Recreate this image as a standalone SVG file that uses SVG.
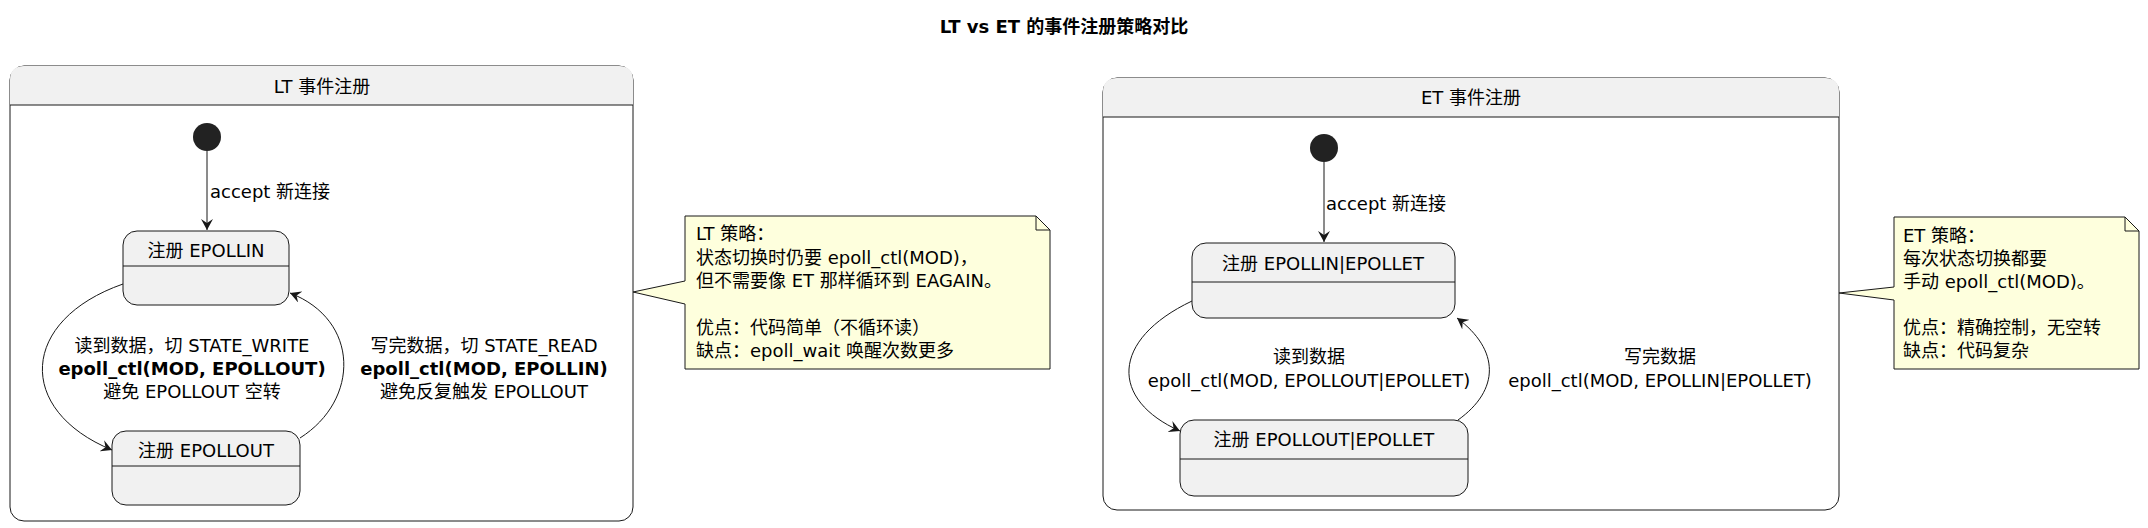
<svg xmlns="http://www.w3.org/2000/svg" width="2148" height="528" viewBox="0 0 2148 528">
<style>
text{font-family:"DejaVu Sans","Noto Sans CJK SC",sans-serif;font-size:18px;fill:#000}
.c{text-anchor:middle}
.b{font-weight:bold}
.box{fill:#fff;stroke:#181818;stroke-width:1}
.st{fill:#f1f1f1;stroke:#181818;stroke-width:1}
.hd{fill:#f1f1f1}
.ln{stroke:#181818;stroke-width:1;fill:none}
.note{fill:#feffdd;stroke:#181818;stroke-width:1}
</style>
<defs>
<marker id="ar" viewBox="0 0 12 12" refX="11" refY="6" markerWidth="12" markerHeight="12" orient="auto" markerUnits="userSpaceOnUse">
<path d="M0,0 L11,6 L0,12 L4,6 Z" fill="#181818"/>
</marker>
</defs>
<rect width="2148" height="528" fill="#fff"/>
<text class="c b" x="1064" y="33">LT vs ET 的事件注册策略对比</text>

<g id="lt">
<rect class="box" x="10" y="66" width="623" height="455" rx="14"/>
<path class="hd" d="M10,105 V80 Q10,66 24,66 H619 Q633,66 633,80 V105 Z"/>
<line class="ln" x1="10" y1="105" x2="633" y2="105"/>
<text class="c" x="322" y="93">LT 事件注册</text>
</g>
<g id="lt_init"><circle cx="207" cy="137" r="14" fill="#222"/></g>
<g id="lt_in">
<rect class="st" x="123" y="231" width="166" height="74" rx="14"/>
<line class="ln" x1="123" y1="266" x2="289" y2="266"/>
<text class="c" x="206" y="257">注册 EPOLLIN</text>
</g>
<g id="lt_out">
<rect class="st" x="112" y="431" width="188" height="74" rx="14"/>
<line class="ln" x1="112" y1="466" x2="300" y2="466"/>
<text class="c" x="206" y="457">注册 EPOLLOUT</text>
</g>
<g id="lt_note">
<path class="note" d="M685,216 H1036 L1050,230 V369 H685 V304 L633,292 L685,281 Z"/>
<path class="ln" d="M1036,216 V230 H1050"/>
<text x="696" y="240">LT 策略：</text>
<text x="696" y="264">状态切换时仍要 epoll_ctl(MOD)，</text>
<text x="696" y="287">但不需要像 ET 那样循环到 EAGAIN。</text>
<text x="696" y="334">优点：代码简单（不循环读）</text>
<text x="696" y="357">缺点：epoll_wait 唤醒次数更多</text>
</g>

<g id="et">
<rect class="box" x="1103" y="78" width="736" height="432" rx="14"/>
<path class="hd" d="M1103,117 V92 Q1103,78 1117,78 H1825 Q1839,78 1839,92 V117 Z"/>
<line class="ln" x1="1103" y1="117" x2="1839" y2="117"/>
<text class="c" x="1471" y="104">ET 事件注册</text>
</g>
<g id="et_init"><circle cx="1324" cy="148" r="14" fill="#222"/></g>
<g id="et_in">
<rect class="st" x="1192" y="243" width="263" height="75" rx="14"/>
<line class="ln" x1="1192" y1="282" x2="1455" y2="282"/>
<text class="c" x="1323" y="270">注册 EPOLLIN|EPOLLET</text>
</g>
<g id="et_out">
<rect class="st" x="1180" y="420" width="288" height="76" rx="14"/>
<line class="ln" x1="1180" y1="459" x2="1468" y2="459"/>
<text class="c" x="1324" y="446">注册 EPOLLOUT|EPOLLET</text>
</g>
<g id="et_note">
<path class="note" d="M1894,217 H2125 L2139,231 V369 H1894 V300 L1839,293 L1894,287 Z"/>
<path class="ln" d="M2125,217 V231 H2139"/>
<text x="1903" y="242">ET 策略：</text>
<text x="1903" y="265">每次状态切换都要</text>
<text x="1903" y="288">手动 epoll_ctl(MOD)。</text>
<text x="1903" y="334">优点：精确控制，无空转</text>
<text x="1903" y="357">缺点：代码复杂</text>
</g>

<g id="connectors">
<line class="ln" x1="207" y1="151" x2="207" y2="230" marker-end="url(#ar)"/>
<text x="210" y="198">accept 新连接</text>
<path class="ln" d="M123,284 C20,320 15,410 112,450" marker-end="url(#ar)"/>
<text class="c" x="192" y="352">读到数据，切 STATE_WRITE</text>
<text class="c b" x="192" y="375">epoll_ctl(MOD, EPOLLOUT)</text>
<text class="c" x="192" y="398">避免 EPOLLOUT 空转</text>
<path class="ln" d="M300,438 C360,400 360,320 290,293" marker-end="url(#ar)"/>
<text class="c" x="484" y="352">写完数据，切 STATE_READ</text>
<text class="c b" x="484" y="375">epoll_ctl(MOD, EPOLLIN)</text>
<text class="c" x="484" y="398">避免反复触发 EPOLLOUT</text>

<line class="ln" x1="1324" y1="162" x2="1324" y2="242" marker-end="url(#ar)"/>
<text x="1326" y="210">accept 新连接</text>
<path class="ln" d="M1192,301 C1110,340 1110,400 1180,431" marker-end="url(#ar)"/>
<text class="c" x="1309" y="363">读到数据</text>
<text class="c" x="1309" y="387">epoll_ctl(MOD, EPOLLOUT|EPOLLET)</text>
<path class="ln" d="M1458,420 C1500,390 1500,350 1457,318" marker-end="url(#ar)"/>
<text class="c" x="1660" y="363">写完数据</text>
<text class="c" x="1660" y="387">epoll_ctl(MOD, EPOLLIN|EPOLLET)</text>
</g>
</svg>
